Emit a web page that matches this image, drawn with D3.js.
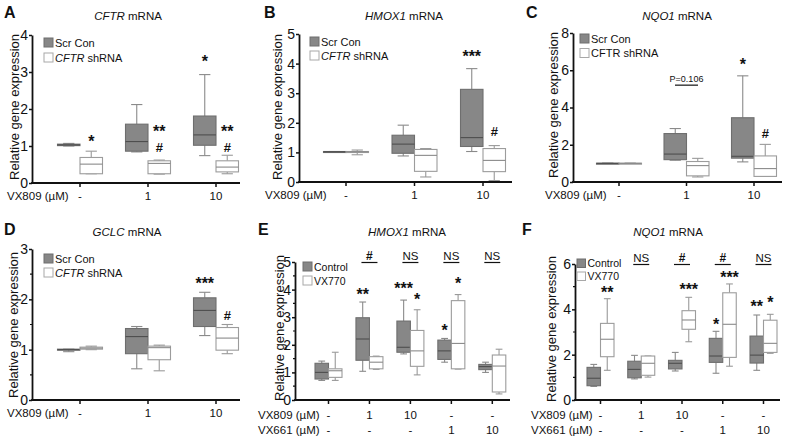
<!DOCTYPE html>
<html><head><meta charset="utf-8">
<script src="https://cdn.jsdelivr.net/npm/d3@7"></script>
<style>body{margin:0;background:#fff}svg{display:block}text{font-family:"Liberation Sans",Arial,Helvetica,sans-serif;fill:#111}</style>
</head><body><svg id="c" width="788" height="443"></svg>
<script>
// ---------- DATA (each box: [min, q1, median, q3, max]) ----------
const catsTop = ["-", "1", "10"];
const vx809Bottom = ["-", "1", "10", "-", "-"];
const vx661Bottom = ["-", "-", "-", "1", "10"];

const cftrScr = [[1.00,1.01,1.03,1.05,1.07],[0.84,0.86,1.12,1.59,2.12],[0.74,1.02,1.30,1.81,2.93]];
const cftrSh  = [[0.25,0.25,0.51,0.69,0.86],[0.24,0.25,0.53,0.60,0.62],[0.25,0.30,0.43,0.60,0.75]];
const cftrMarks = [[0,1,"*",1.24],[1,1,"**",1.51],[1,1,"#",0.97],[2,0,"*",3.38],[2,1,"**",1.51],[2,1,"#",0.97]];

const hmoxScr = [[1.01,1.01,1.02,1.03,1.03],[0.88,0.97,1.28,1.58,1.92],[1.03,1.20,1.50,3.13,3.83]];
const hmoxSh  = [[0.92,1.00,1.02,1.03,1.08],[0.17,0.36,0.90,1.10,1.13],[0.05,0.35,0.73,1.13,1.23]];
const hmoxMarks = [[2,0,"***",4.36],[2,1,"#",1.69]];

const nqoScr = [[1.00,1.00,1.00,1.01,1.01],[1.17,1.20,1.50,2.60,2.87],[1.08,1.28,1.38,3.45,5.70]];
const nqoSh  = [[1.00,1.00,1.00,1.01,1.01],[0.27,0.33,0.88,1.10,1.27],[0.30,0.30,0.72,1.40,2.02]];
const nqoMarks = [[2,0,"*",6.5],[2,1,"#",2.63]];
const nqoPLabel = "P=0.106";

const gclcScr = [[0.96,0.99,1.00,1.01,1.01],[0.62,0.92,1.26,1.42,1.46],[1.28,1.46,1.78,2.03,2.14]];
const gclcSh  = [[1.00,1.01,1.03,1.05,1.07],[0.58,0.80,1.04,1.07,1.09],[0.92,0.99,1.23,1.44,1.50]];
const gclcMarks = [[2,0,"***",2.39],[2,1,"#",1.67]];

const eControl = [[0.71,0.76,1.00,1.33,1.41],[1.04,1.44,2.21,2.98,3.55],[1.67,1.73,1.91,2.86,3.62],[1.37,1.47,1.78,2.17,2.23],[1.00,1.10,1.21,1.29,1.37]];
const eVX770   = [[0.71,0.82,1.06,1.13,1.73],[1.11,1.13,1.37,1.57,1.59],[0.91,1.22,1.78,2.52,3.27],[1.12,1.13,2.05,3.60,3.82],[0.22,0.29,1.23,1.63,1.84]];
const eMarks = [[1,0,"**",3.95],[2,0,"***",4.17],[2,1,"*",3.77],[3,0,"*",2.66],[3,1,"*",4.35]];
const eBrackets = ["", "#", "NS", "NS", "NS"];

const fControl = [[0.60,0.63,0.96,1.44,1.57],[0.93,0.98,1.35,1.71,1.97],[1.28,1.37,1.62,1.75,2.10],[1.18,1.66,1.94,2.72,3.03],[1.31,1.63,1.98,2.82,3.75]];
const fVX770   = [[1.31,1.91,2.68,3.38,4.47],[1.01,1.09,1.62,1.94,1.94],[2.57,3.12,3.53,3.94,4.53],[1.49,1.88,3.34,4.73,5.12],[2.06,2.10,2.50,3.52,3.78]];
const fMarks = [[0,1,"**",4.9],[2,1,"***",5.03],[3,0,"*",3.5],[3,1,"***",5.6],[4,0,"**",4.29],[4,1,"*",4.5]];
const fBrackets = ["", "NS", "#", "#", "NS"];

// ---------- DRAWING ----------
const svg = d3.select("#c");
const GRAY = "#878787", GRAY_STROKE = "#6e6e6e", MED_DARK = "#4e4e4e", WHITE_STROKE = "#9c9c9c";

function panel(c) {
  const g = svg.append("g");
  const n = c.rows[0].length;
  const y = d3.scaleLinear().domain([0, c.yMax]).range([c.yB, c.yT]);
  const x = d3.scalePoint().domain(d3.range(n)).range([c.c0, c.c1]);

  g.append("text").attr("x", c.letter[1]).attr("y", c.letter[2]).attr("font-size", 16).attr("font-weight", 900).text(c.letter[0]);
  const t = g.append("text").attr("x", c.titleX).attr("y", c.titleY).attr("text-anchor", "middle").attr("font-size", 11.5);
  t.append("tspan").attr("font-style", "italic").text(c.title[0]);
  t.append("tspan").text(" " + c.title[1]);

  g.append("text").attr("transform", `translate(${c.ytx},${c.yty}) rotate(-90)`).attr("text-anchor", "middle")
    .attr("dy", "0.35em").attr("font-size", 13).text("Relative gene expression");

  const cap = c.bw * 0.5;
  [c.s0, c.s1].forEach((series, s) => {
    series.forEach((d, i) => {
      const xl = s === 0 ? x(i) - c.bw : x(i);
      const xc = xl + c.bw / 2;
      const wc = s === 0 ? "#8a8a8a" : "#9a9a9a";
      const bg = g.append("g");
      bg.append("line").attr("x1", xc).attr("x2", xc).attr("y1", y(d[3])).attr("y2", y(d[4])).attr("stroke", wc).attr("stroke-width", 1.1);
      bg.append("line").attr("x1", xc).attr("x2", xc).attr("y1", y(d[1])).attr("y2", y(d[0])).attr("stroke", wc).attr("stroke-width", 1.1);
      bg.append("line").attr("x1", xc - cap / 2).attr("x2", xc + cap / 2).attr("y1", y(d[4])).attr("y2", y(d[4])).attr("stroke", wc).attr("stroke-width", 1.1);
      bg.append("line").attr("x1", xc - cap / 2).attr("x2", xc + cap / 2).attr("y1", y(d[0])).attr("y2", y(d[0])).attr("stroke", wc).attr("stroke-width", 1.1);
      bg.append("rect").attr("x", xl).attr("width", c.bw).attr("y", y(d[3])).attr("height", Math.max(1, y(d[1]) - y(d[3])))
        .attr("fill", s === 0 ? GRAY : "#fff").attr("stroke", s === 0 ? GRAY_STROKE : WHITE_STROKE).attr("stroke-width", 1.1);
      bg.append("line").attr("x1", xl).attr("x2", xl + c.bw).attr("y1", y(d[2])).attr("y2", y(d[2]))
        .attr("stroke", s === 0 ? MED_DARK : "#8a8a8a").attr("stroke-width", 1.1);
    });
  });

  const ya = g.append("g").attr("transform", `translate(${c.ax},0)`)
    .call(d3.axisLeft(y).tickValues(c.yTicks).tickFormat(d3.format("d")).tickSize(3).tickPadding(1).tickSizeOuter(0));
  ya.select(".domain").attr("stroke", "#111").attr("stroke-width", 1.8);
  ya.selectAll(".tick line").attr("stroke", "#111").attr("stroke-width", 1.5);
  ya.selectAll(".tick text").attr("font-size", 14).attr("fill", "#111").attr("font-family", '"Liberation Sans",Arial,sans-serif');
  if (c.minor) {
    g.selectAll(".minor").data(c.minor).join("line").attr("x1", c.ax - 2).attr("x2", c.ax).attr("y1", d => y(d)).attr("y2", d => y(d))
      .attr("stroke", "#111").attr("stroke-width", 1.2);
  }
  g.append("line").attr("x1", c.ax - 0.9).attr("x2", c.x1).attr("y1", c.yB).attr("y2", c.yB).attr("stroke", "#111").attr("stroke-width", 1.8);
  g.selectAll(".xt").data(d3.range(n)).join("line").attr("x1", d => x(d)).attr("x2", d => x(d)).attr("y1", c.yB).attr("y2", c.yB + 4)
    .attr("stroke", "#111").attr("stroke-width", 1.5);
  c.rows.forEach((row, r) => {
    g.append("text").attr("x", c.labelX).attr("y", c.rowY[r]).attr("font-size", 11.5).text(c.rowNames[r]);
    g.selectAll(".xl" + r).data(row).join("text").attr("x", (d, i) => x(i)).attr("y", c.rowY[r])
      .attr("text-anchor", "middle").attr("font-size", 11.5).text(d => d);
  });

  c.marks.forEach(([i, s, lab, v]) => {
    const xc = s === 0 ? x(i) - c.bw / 2 : x(i) + c.bw / 2;
    const star = lab[0] === "*";
    g.append("text").attr("x", xc).attr("y", y(v) + (star ? 9.5 : 4.5)).attr("text-anchor", "middle")
      .attr("font-size", star ? 16 : 13).attr("font-weight", "bold").text(lab);
  });
  if (c.brackets) {
    c.brackets.forEach((lab, i) => {
      if (!lab) return;
      g.append("text").attr("x", x(i)).attr("y", y(c.yMax) - 2.5).attr("text-anchor", "middle").attr("font-size", lab === "#" ? 12 : 11.5)
        .attr("font-weight", lab === "#" ? "bold" : "normal").text(lab);
      g.append("line").attr("x1", x(i) - 8).attr("x2", x(i) + 8).attr("y1", y(c.yMax) + 0.5).attr("y2", y(c.yMax) + 0.5).attr("stroke", "#111").attr("stroke-width", 1.2);
    });
  }
  if (c.pLabel) {
    const [i, v] = c.pPos;
    g.append("text").attr("x", x(i)).attr("y", y(v) - 3).attr("text-anchor", "middle").attr("font-size", 9).text(c.pLabel);
    g.append("line").attr("x1", x(i) - 11.5).attr("x2", x(i) + 11.5).attr("y1", y(v)).attr("y2", y(v)).attr("stroke", "#111").attr("stroke-width", 1.2);
  }

  const [lx, ly] = c.legend;
  c.legendNames.forEach((nm, k) => {
    const yy = ly + k * c.legendStep;
    g.append("rect").attr("x", lx).attr("y", yy).attr("width", c.legSize).attr("height", c.legSize)
      .attr("fill", k === 0 ? GRAY : "#fff").attr("stroke", k === 0 ? GRAY_STROKE : "#a8a8a8").attr("stroke-width", 1);
    const tx = g.append("text").attr("x", lx + c.legSize + 2).attr("y", yy + c.legSize - 0.5).attr("font-size", c.legFont);
    if (Array.isArray(nm)) {
      tx.append("tspan").attr("font-style", "italic").text(nm[0]);
      tx.append("tspan").text(" " + nm[1]);
    } else tx.text(nm);
  });
}

const topRows = [catsTop];
const topNames = ["VX809 (\u00b5M)"];
panel({letter:["A",4,18], title:["CFTR","mRNA"], titleX:128, titleY:20, ytx:14, yty:107,
  ax:32, x1:240, yB:183, yT:35, yMax:4, yTicks:[0,1,2,3,4], c0:80, c1:216, bw:22.5,
  rows:topRows, rowNames:topNames, rowY:[200], labelX:7,
  s0:cftrScr, s1:cftrSh, marks:cftrMarks,
  legend:[44,38], legendStep:15, legSize:9, legFont:11, legendNames:["Scr Con", ["CFTR","shRNA"]]});
panel({letter:["B",264,18], title:["HMOX1","mRNA"], titleX:404, titleY:20, ytx:277, yty:107,
  ax:299, x1:512, yB:182, yT:34, yMax:5, yTicks:[0,1,2,3,4,5], c0:346, c1:483, bw:22.5,
  rows:topRows, rowNames:topNames, rowY:[199], labelX:265,
  s0:hmoxScr, s1:hmoxSh, marks:hmoxMarks,
  legend:[310,37], legendStep:14, legSize:9, legFont:11, legendNames:["Scr Con", ["CFTR","shRNA"]]});
panel({letter:["C",526,18], title:["NQO1","mRNA"], titleX:677, titleY:20, ytx:553, yty:105,
  ax:573, x1:782, yB:182, yT:33, yMax:8, yTicks:[0,2,4,6,8], c0:619, c1:754, bw:22.5,
  rows:topRows, rowNames:topNames, rowY:[199], labelX:545,
  s0:nqoScr, s1:nqoSh, marks:nqoMarks, pLabel:nqoPLabel, pPos:[1,5.2],
  legend:[580,34], legendStep:14.5, legSize:9, legFont:11, legendNames:["Scr Con", "CFTR shRNA"]});
panel({letter:["D",4,235], title:["GCLC","mRNA"], titleX:127, titleY:236, ytx:13, yty:325,
  ax:32, x1:240, yB:400, yT:249, yMax:3, yTicks:[0,1,2,3], minor:[0.5,1.5,2.5], c0:80, c1:216, bw:22.5,
  rows:topRows, rowNames:topNames, rowY:[417], labelX:7,
  s0:gclcScr, s1:gclcSh, marks:gclcMarks,
  legend:[44,254], legendStep:14, legSize:9, legFont:11, legendNames:["Scr Con", ["CFTR","shRNA"]]});
panel({letter:["E",258,235], title:["HMOX1","mRNA"], titleX:407, titleY:236, ytx:279, yty:328,
  ax:295, x1:510, yB:400, yT:262, yMax:5, yTicks:[0,1,2,3,4,5], minor:[0.5,1.5,2.5,3.5,4.5], c0:328.5, c1:492.3, bw:13.5,
  rows:[vx809Bottom, vx661Bottom], rowNames:["VX809 (\u00b5M)", "VX661 (\u00b5M)"], rowY:[419,434], labelX:258,
  s0:eControl, s1:eVX770, marks:eMarks, brackets:eBrackets,
  legend:[303,262], legendStep:14, legSize:9, legFont:10.5, legendNames:["Control", "VX770"]});
panel({letter:["F",522,235], title:["NQO1","mRNA"], titleX:668, titleY:236, ytx:551, yty:329,
  ax:575, x1:780, yB:400, yT:264, yMax:6, yTicks:[0,2,4,6], minor:[1,3,5], c0:600.5, c1:763.5, bw:13.5,
  rows:[vx809Bottom, vx661Bottom], rowNames:["VX809 (\u00b5M)", "VX661 (\u00b5M)"], rowY:[419,434], labelX:531,
  s0:fControl, s1:fVX770, marks:fMarks, brackets:fBrackets,
  legend:[577,259], legendStep:13, legSize:8.5, legFont:10.5, legendNames:["Control", "VX770"]});
</script></body></html>
